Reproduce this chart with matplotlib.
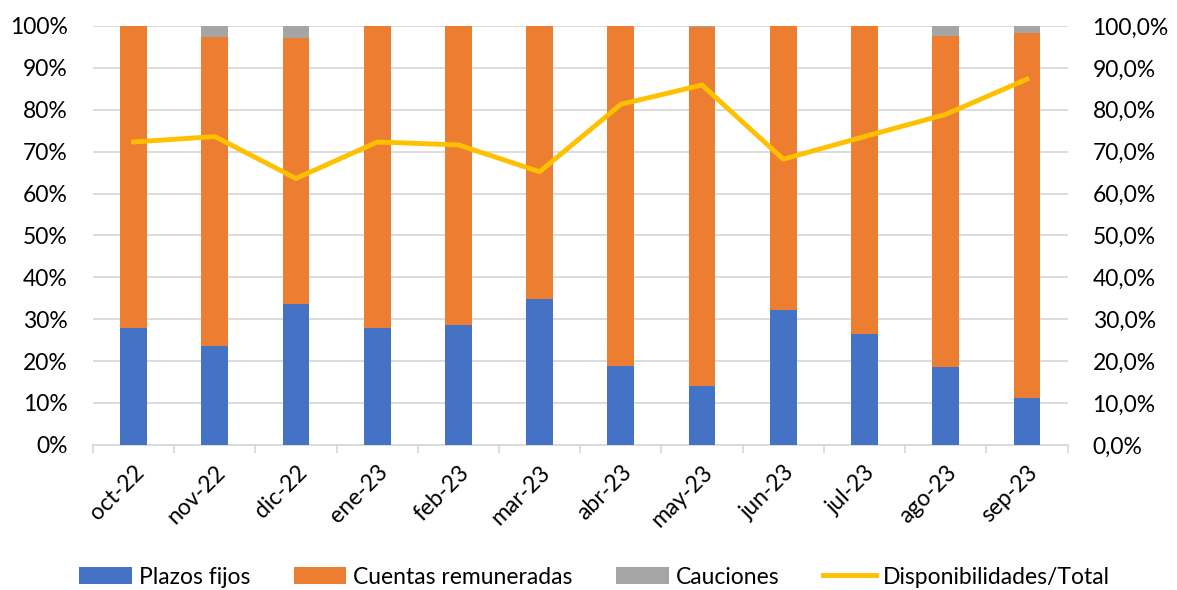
import matplotlib
matplotlib.use("Agg")
import matplotlib.pyplot as plt
import numpy as np
from matplotlib.ticker import FuncFormatter, FixedLocator

plt.rcParams['font.family'] = ['Lato', 'DejaVu Sans']

months = ["oct-22", "nov-22", "dic-22", "ene-23", "feb-23", "mar-23",
          "abr-23", "may-23", "jun-23", "jul-23", "ago-23", "sep-23"]
plazos_fijos = [28.0, 23.7, 33.6, 27.9, 28.5, 34.9, 18.9, 14.0, 32.1, 26.4, 18.5, 11.3]
cauciones = [0.0, 2.7, 2.8, 0.0, 0.0, 0.0, 0.0, 0.3, 0.0, 0.0, 2.3, 1.6]
cuentas_rem = [100 - p - c for p, c in zip(plazos_fijos, cauciones)]
disp_total = [72.3, 73.6, 63.6, 72.3, 71.6, 65.2, 81.3, 85.9, 68.2, 73.6, 78.9, 87.3]

FS = 16.5
fig = plt.figure(figsize=(11.77, 5.90), dpi=100)
ax = fig.add_axes([0.079, 0.246, 0.828, 0.710])
x = np.arange(len(months))
w = 0.33
ax.bar(x, plazos_fijos, w, color="#4472C4", label="Plazos fijos", zorder=3)
ax.bar(x, cuentas_rem, w, bottom=plazos_fijos, color="#ED7D31", label="Cuentas remuneradas", zorder=3)
bott2 = [p + c for p, c in zip(plazos_fijos, cuentas_rem)]
ax.bar(x, cauciones, w, bottom=bott2, color="#A5A5A5", label="Cauciones", zorder=3)

ax.set_ylim(0, 100)
ax.set_xlim(-0.5, len(months) - 0.5)
ax.set_yticks(np.arange(0, 101, 10))
ax.yaxis.set_major_formatter(FuncFormatter(lambda v, p: f"{int(v)}%"))
ax.grid(axis='y', color="#D9D9D9", linewidth=1.3, zorder=0)
for s in ["top", "right", "left"]:
    ax.spines[s].set_visible(False)
ax.spines["bottom"].set_color("#D9D9D9")
ax.spines["bottom"].set_linewidth(1.3)
ax.tick_params(axis='y', length=0, labelsize=FS, colors="#000000", pad=18)
ax.set_xticks(x)
ax.set_xticklabels(months, rotation=45, ha="right", rotation_mode="anchor", fontsize=FS)
ax.tick_params(axis='x', which='major', length=0, pad=12)
ax.xaxis.set_minor_locator(FixedLocator(np.arange(-0.5, len(months), 1)))
ax.tick_params(axis='x', which='minor', length=6, color="#D9D9D9", width=1.3)

ax2 = ax.twinx()
ax2.plot(x, disp_total, color="#FFC000", linewidth=3.5, label="Disponibilidades/Total", zorder=4)
ax2.set_ylim(0, 100)
ax2.set_yticks(np.arange(0, 101, 10))
ax2.yaxis.set_major_formatter(FuncFormatter(lambda v, p: f"{v:.1f}%".replace(".", ",")))
for s in ["top", "right", "left", "bottom"]:
    ax2.spines[s].set_visible(False)
ax2.tick_params(axis='y', length=0, labelsize=FS, pad=18)

h1, l1 = ax.get_legend_handles_labels()
h2, l2 = ax2.get_legend_handles_labels()
fig.legend(h1 + h2, l1 + l2, loc="center", bbox_to_anchor=(0.505, 0.022), ncol=4,
           frameon=False, fontsize=FS, handlelength=2.3, handleheight=0.7,
           columnspacing=1.9, handletextpad=0.3)

fig.savefig("out.png", dpi=100)
